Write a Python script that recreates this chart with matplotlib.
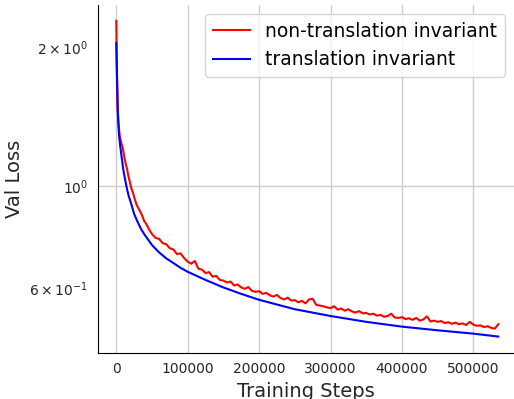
import numpy as np
import matplotlib
matplotlib.use('Agg')
import matplotlib.pyplot as plt

# 平滑曲线 (translation invariant)
blue_steps = [0, 500, 1000, 2000, 3000, 4000, 5000, 7000, 10000, 12500, 15000,
              17500, 20000, 25000, 30000, 35000, 40000, 50000, 60000, 70000,
              80000, 90000, 100000, 125000, 150000, 175000, 200000, 250000,
              300000, 350000, 400000, 450000, 500000, 535000]
blue_loss = [2.04, 1.85, 1.70, 1.45, 1.35, 1.28, 1.24, 1.17, 1.08, 1.03, 0.985,
             0.95, 0.925, 0.87, 0.835, 0.805, 0.783, 0.745, 0.718, 0.697,
             0.681, 0.665, 0.652, 0.626, 0.603, 0.584, 0.567, 0.541,
             0.523, 0.508, 0.496, 0.487, 0.479, 0.472]

# 噪声曲线 (non-translation invariant)
red_steps_early = [0, 500, 1000, 2000, 3000, 4000, 5000, 7000, 9000, 11000,
                   13000, 15000, 17000, 19000, 21000, 23500, 26000, 28500,
                   31000, 33500, 36000, 39000, 42500, 46000]
red_loss_early = [2.28, 1.95, 1.75, 1.48, 1.38, 1.32, 1.28, 1.24, 1.21, 1.16,
                  1.12, 1.09, 1.05, 1.02, 0.99, 0.965, 0.935, 0.91,
                  0.895, 0.88, 0.865, 0.84, 0.825, 0.805]
red_steps_late = list(range(50000, 535001, 5000))
red_loss_late = [
    0.787, 0.772, 0.768, 0.752, 0.748, 0.733, 0.729, 0.712, 0.715, 0.698,
    0.686, 0.679, 0.688, 0.662, 0.659, 0.648, 0.651, 0.636, 0.639, 0.626,
    0.624, 0.618, 0.621, 0.609, 0.612, 0.603, 0.599, 0.604, 0.593, 0.590,
    0.592, 0.584, 0.587, 0.580, 0.576, 0.581, 0.572, 0.568, 0.573, 0.565,
    0.566, 0.560, 0.564, 0.557, 0.568, 0.570, 0.553, 0.551, 0.549, 0.546,
    0.544, 0.549, 0.540, 0.543, 0.537, 0.541, 0.535, 0.532, 0.536, 0.530,
    0.531, 0.527, 0.529, 0.524, 0.526, 0.521, 0.523, 0.529, 0.519, 0.518,
    0.520, 0.515, 0.517, 0.513, 0.518, 0.511, 0.514, 0.522, 0.509, 0.511,
    0.508, 0.510, 0.505, 0.507, 0.503, 0.506, 0.502, 0.504, 0.500, 0.508,
    0.501, 0.498, 0.499, 0.495, 0.497, 0.493, 0.491, 0.502]
red_steps = red_steps_early + red_steps_late
red_loss = red_loss_early + red_loss_late

fig = plt.figure(figsize=(5.14, 3.99), dpi=100)
ax = fig.add_axes([0.1907, 0.116, 0.8093, 0.8714])

ax.plot(red_steps, red_loss, color='red', lw=1.5, label='non-translation invariant')
ax.plot(blue_steps, blue_loss, color='blue', lw=1.5, label='translation invariant')

ax.set_yscale('log')
ax.set_xlim(-25600, 557000)
ax.set_ylim(0.4355, 2.466)

ax.grid(True, which='major', color='#cccccc', lw=1)
ax.set_axisbelow(True)
ax.spines['top'].set_visible(False)
ax.spines['right'].set_visible(False)
ax.spines['left'].set_color('black')
ax.spines['bottom'].set_color('black')
ax.tick_params(which='both', length=0, labelsize=10, labelcolor='#262626', pad=7)

ax.set_xlabel('Training Steps', fontsize=14, color='#262626')
ax.set_ylabel('Val Loss', fontsize=14, color='#262626')
ax.legend(loc='upper right', fontsize=13.5, framealpha=0.8, edgecolor='#cccccc')

fig.savefig('out.png', dpi=100)
